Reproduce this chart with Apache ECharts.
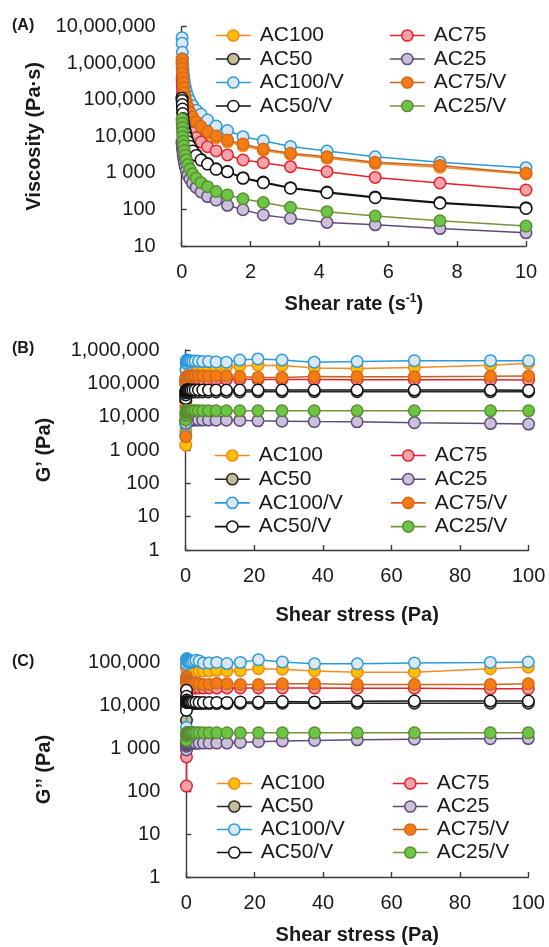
<!DOCTYPE html>
<html>
<head>
<meta charset="utf-8">
<script src="https://cdn.jsdelivr.net/npm/echarts@6/dist/echarts.min.js"></script>
<style>
html,body{margin:0;padding:0;background:#fff;}
#chart{width:549px;height:947px;}
</style>
</head>
<body>
<div id="chart"></div>
<script>
// ---------- DATA ----------
const seriesNames = ['AC100','AC75','AC50','AC25','AC100/V','AC75/V','AC50/V','AC25/V'];

// Panel A: viscosity vs shear rate
const shearRate = [0.01,0.0133,0.0178,0.0237,0.0316,0.0422,0.0562,0.075,0.1,0.133,0.178,0.237,0.316,0.422,0.562,0.75,1,1.33,1.78,2.37,3.16,4.22,5.62,7.5,10];
const viscAC100   = [1080000,840000,650000,480000,360000,260000,190000,140000,104000,76000,56000,41000,30000,22000,16500,12000,9200,7100,5500,4100,3200,2500,1800,1420,940];
const viscAC75    = [400000,310000,235000,175000,130000,96000,72000,54000,40000,30000,22000,16500,12500,9300,7000,5200,4000,3100,2250,1900,1480,1080,750,530,340];
const viscAC50    = [120000,102000,80000,60000,45000,33000,24500,18500,13800,10200,7700,5700,4200,3150,2350,1800,1300,1100,740,560,395,300,220,155,112];
const viscAC25    = [7000,6300,5500,4600,4100,3200,2500,1950,1500,1150,880,680,520,400,300,225,180,130,98,71,57,44,38,30,23];
const viscAC100V  = [5000000,3500000,2000000,1300000,900000,640000,460000,330000,240000,175000,128000,95000,70000,52000,40000,28000,19200,14400,9800,7600,5250,3960,2760,1950,1390];
const viscAC75V   = [1300000,950000,730000,540000,400000,290000,215000,158000,116000,85000,63000,46000,34000,25000,18600,13400,10200,7900,6200,4500,3450,2760,1950,1600,980];
const viscAC50V   = [110000,95000,74000,56000,42000,31000,23000,17500,13000,9600,7200,5400,4000,3000,2240,1740,1250,1070,710,540,380,288,210,148,107];
const viscAC25V   = [30000,23000,17500,13000,9800,7300,5500,4100,3050,2300,1700,1280,950,720,540,420,310,250,195,155,115,87,66,49,35];

// Panels B and C: moduli vs shear stress
const shearStress = [0.05,0.0667,0.0889,0.119,0.158,0.211,0.281,0.375,0.5,0.667,0.889,1.19,1.58,2.11,2.81,3.75,5.0,6.67,8.89,11.9,15.8,21.1,28.1,37.5,50,66.7,88.9,100];

const gpAC100   = [1400,4000,30000,150000,250000,290000,300000,310000,310000,300000,300000,300000,300000,300000,300000,300000,300000,300000,300000,310000,330000,350000,340000,290000,280000,300000,350000,400000];
const gpAC75    = [60000,100000,118000,124000,127000,129000,130000,130000,130000,130000,130000,131000,131000,131000,131000,131000,131000,131000,131000,132000,132000,130000,130000,130000,128000,128000,127000,126000];
const gpAC50    = [30000,40000,47000,51000,53000,54000,55000,55000,55000,55000,55000,55000,55000,55000,55000,55000,55000,55000,55000,55000,55000,56000,56000,56000,56000,56000,56000,56000];
const gpAC25    = [6000,7000,7500,7800,7900,7900,7900,7900,7900,7900,7900,7900,7900,7900,7900,7900,7900,7900,7800,7800,7700,7500,7300,7100,7000,6600,6200,6000];
const gpAC100V  = [2800,6500,60000,250000,400000,460000,480000,500000,490000,480000,470000,480000,470000,460000,470000,460000,450000,450000,440000,430000,500000,540000,500000,430000,450000,480000,480000,480000];
const gpAC75V   = [2500,20000,90000,130000,150000,155000,160000,160000,162000,165000,165000,165000,165000,165000,165000,165000,165000,165000,166000,166000,160000,150000,150000,160000,158000,158000,162000,166000];
const gpAC50V   = [35000,45000,52000,57000,60000,62000,63000,63000,63000,63000,63000,63000,63000,63000,63000,63000,63000,63000,63000,63000,63000,63000,63000,63000,63000,63000,63000,62000];
const gpAC25V   = [8000,11000,13000,14000,14500,15000,15000,15000,15000,15000,15000,15000,15000,15000,15000,15000,15000,15000,15000,15000,15000,15000,15000,15000,15000,15000,15000,15000];

const gppAC100  = [80000,85000,80000,75000,70000,68000,66000,65000,64000,63000,62000,62000,62000,62000,62000,62000,62000,62000,64000,62000,63000,70000,68000,62000,58000,58000,70000,76000];
const gppAC75   = [130,620,15000,22000,24000,25000,25000,25000,25000,25000,25000,25000,25000,25000,25000,25000,25000,25000,25000,25000,25000,25000,25000,25000,24500,24500,24000,24000];
const gppAC50   = [4400,9000,10000,10500,10500,10600,10600,10600,10600,10700,10700,10700,10700,10700,10800,10800,10800,10800,10800,10800,10900,10900,11000,11000,11000,11000,11000,11000];
const gppAC25   = [900,1100,1200,1230,1230,1250,1260,1260,1260,1270,1270,1280,1280,1290,1290,1290,1300,1300,1300,1300,1350,1400,1450,1500,1550,1600,1640,1660];
const gppAC100V = [3000,40000,90000,110000,120000,115000,110000,105000,100000,100000,100000,98000,100000,105000,110000,105000,95000,95000,98000,92000,98000,113000,100000,91000,91000,95000,98000,100000];
const gppAC75V  = [45000,40000,36000,34000,32000,31000,30000,30000,30000,30000,30000,30000,30000,31000,32000,31000,30000,30000,32000,31000,30000,30000,31000,31000,30000,30000,30000,31000];
const gppAC50V  = [7500,22000,16000,13000,12000,11500,11500,11500,11500,11500,11500,11500,11600,11600,11600,11500,11500,11500,11500,11500,11800,11800,12000,11800,12200,12400,12400,12400];
const gppAC25V  = [1500,1900,2100,2200,2250,2250,2250,2250,2250,2250,2250,2250,2250,2250,2250,2250,2250,2250,2250,2250,2250,2250,2250,2250,2250,2250,2250,2250];

// Tick labels
const yTicksA  = ['10','100','1 000','10,000','100,000','1,000,000','10,000,000']; // 10^1..10^7
const yTicksB  = ['1','10','100','1 000','10,000','100,000','1,000,000'];          // 10^0..10^6
const yTicksC  = ['1','10','100','1 000','10,000','100,000'];                     // 10^0..10^5
const xTicksA  = ['0','2','4','6','8','10'];
const xTicksBC = ['0','20','40','60','80','100'];

// ---------- STYLE ----------
const FONT = '"Liberation Sans", Arial, sans-serif';
const styles = {
  'AC100':   {line:'#F28C28', border:'#F08A1E', fill:'#FFC000'},
  'AC75':    {line:'#E8202A', border:'#E8202A', fill:'#F4A3AC'},
  'AC50':    {line:'#262626', border:'#262626', fill:'#C4BC96'},
  'AC25':    {line:'#5E4B7A', border:'#5E4B7A', fill:'#CCC0DA'},
  'AC100/V': {line:'#2D9AD8', border:'#2D9AD8', fill:'#DAE8F5'},
  'AC75/V':  {line:'#C8641E', border:'#D2691E', fill:'#F57C12'},
  'AC50/V':  {line:'#111111', border:'#111111', fill:'#FFFFFF'},
  'AC25/V':  {line:'#77933C', border:'#5B8C35', fill:'#6CC644'}
};

const dataA = [viscAC100,viscAC75,viscAC50,viscAC25,viscAC100V,viscAC75V,viscAC50V,viscAC25V];
const dataB = [gpAC100,gpAC75,gpAC50,gpAC25,gpAC100V,gpAC75V,gpAC50V,gpAC25V];
const dataC = [gppAC100,gppAC75,gppAC50,gppAC25,gppAC100V,gppAC75V,gppAC50V,gppAC25V];

function pairs(xs, ys){ return xs.map((x,i)=>[x, ys[i]]); }

const series = [];
[[dataA, shearRate],[dataB, shearStress],[dataC, shearStress]].forEach(([set, xs], gi) => {
  set.forEach((ys, si) => {
    const nm = seriesNames[si];
    const st = styles[nm];
    series.push({
      name: nm, type: 'line', xAxisIndex: gi, yAxisIndex: gi,
      data: pairs(xs, ys),
      symbol: 'circle', symbolSize: 11.5, showAllSymbol: true,
      clip: false,
      lineStyle: {color: st.line, width: 1.5},
      itemStyle: {color: st.fill, borderColor: st.border, borderWidth: 1.5},
      emphasis: {disabled: true},
      animation: false,
      z: 2 + si
    });
  });
});

const axisLineStyle = {lineStyle: {color: '#3a3a3a', width: 1.4}};
const tickStyle = {show: true, inside: true, length: 5, lineStyle: {color: '#3a3a3a', width: 1.4}};
const labelBase = {fontFamily: FONT, fontSize: 20, color: '#1a1a1a'};
const nameStyle = {fontFamily: FONT, fontSize: 20, fontWeight: 'bold', color: '#1a1a1a'};

function logFmt(labels, minExp){
  return v => { const i = Math.round(Math.log10(v)) - minExp; return labels[i] !== undefined ? labels[i] : ''; };
}
function linFmt(labels, step){
  return v => { const i = Math.round(v/step); return labels[i] !== undefined ? labels[i] : ''; };
}

function yAxis(gi, min, max, labels, minExp, name, gap){
  return {
    type: 'log', logBase: 10, gridIndex: gi, min: min, max: max,
    axisLine: Object.assign({show: true}, axisLineStyle),
    axisTick: tickStyle, minorTick: {show: false},
    splitLine: {show: false},
    axisLabel: Object.assign({margin: 26, formatter: logFmt(labels, minExp)}, labelBase),
    name: name, nameLocation: 'middle', nameGap: gap,
    nameTextStyle: nameStyle
  };
}
function xAxis(gi, max, interval, labels, name, gap, rich){
  return {
    type: 'value', gridIndex: gi, min: 0, max: max, interval: interval,
    axisLine: Object.assign({show: true, onZero: false}, axisLineStyle),
    axisTick: tickStyle, splitLine: {show: false},
    axisLabel: Object.assign({margin: 16, formatter: linFmt(labels, interval)}, labelBase),
    name: name, nameLocation: 'middle', nameGap: gap,
    nameTextStyle: Object.assign({}, nameStyle, rich ? {rich: rich} : {})
  };
}

function legendPair(left1, left2, top, gap){
  const common = {
    orient: 'vertical', top: top, itemGap: gap, padding: 0,
    itemWidth: 35, itemHeight: 14, selectedMode: false,
    itemStyle: {borderWidth: 1.5},
    lineStyle: {width: 1.6},
    textStyle: {fontFamily: FONT, fontSize: 21, color: '#1a1a1a', padding: [0,0,0,4]}
  };
  return [
    Object.assign({left: left1, data: ['AC100','AC50','AC100/V','AC50/V']}, common),
    Object.assign({left: left2, data: ['AC75','AC25','AC75/V','AC25/V']}, common)
  ];
}

const supRich = {
  b: {fontFamily: FONT, fontSize: 20, fontWeight: 'bold', color: '#1a1a1a', lineHeight: 22},
  sup: {fontFamily: FONT, fontSize: 12, fontWeight: 'bold', color: '#1a1a1a', verticalAlign: 'top', lineHeight: 22}
};

const option = {
  backgroundColor: '#ffffff',
  animation: false,
  grid: [
    {left: 181.7, width: 344.3, top: 26.7, height: 219.3},
    {left: 185.6, width: 343, top: 350, height: 200},
    {left: 186.3, width: 342, top: 662, height: 215}
  ],
  xAxis: [
    xAxis(0, 10, 2, xTicksA, '{b|Shear rate (s}{sup|-1}{b|)}', 47, supRich),
    xAxis(1, 100, 20, xTicksBC, 'Shear stress (Pa)', 55),
    xAxis(2, 100, 20, xTicksBC, 'Shear stress (Pa)', 48)
  ],
  yAxis: [
    yAxis(0, 10, 10000000, yTicksA, 1, 'Viscosity (Pa·s)', 125),
    yAxis(1, 1, 1000000, yTicksB, 0, 'G’ (Pa)', 131),
    yAxis(2, 1, 100000, yTicksC, 0, 'G’’ (Pa)', 132)
  ],
  legend: [].concat(
    legendPair(215, 389, 25, 2.5),
    legendPair(214, 390, 445, 2.7),
    legendPair(216, 392, 773, 2)
  ),
  graphic: [
    {type:'text', left: 12, top: 18, style:{text:'(A)', font:'bold 16px ' + FONT, fill:'#1a1a1a'}},
    {type:'text', left: 12, top: 341, style:{text:'(B)', font:'bold 16px ' + FONT, fill:'#1a1a1a'}},
    {type:'text', left: 12, top: 654, style:{text:'(C)', font:'bold 16px ' + FONT, fill:'#1a1a1a'}}
  ],
  series: series
};

const chart = echarts.init(document.getElementById('chart'), null, {renderer: 'canvas'});
chart.setOption(option);
</script>
</body>
</html>
